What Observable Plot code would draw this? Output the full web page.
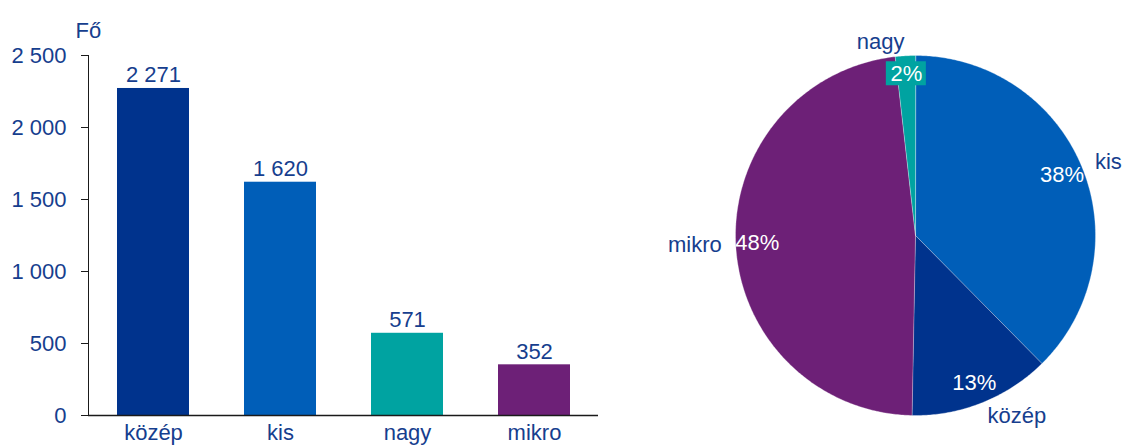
<!DOCTYPE html>
<html><head><meta charset="utf-8">
<script src="https://cdn.jsdelivr.net/npm/d3@7"></script>
<script src="https://cdn.jsdelivr.net/npm/@observablehq/plot@0.6"></script>
<style>
body{margin:0;background:#fff;}
#wrap{display:flex;width:1126px;height:445px;overflow:hidden;}
#wrap svg{display:block;overflow:visible;}
</style></head><body>
<div id="wrap"><div id="bar"></div><div id="pie"></div></div>
<script>
// ---- data ----
const categories = ["közép", "kis", "nagy", "mikro"];
const employees = [2271, 1620, 571, 352];
const yTicks = [0, 500, 1000, 1500, 2000, 2500];
const unitLabel = "Fő";
const pieCategories = ["kis", "közép", "mikro", "nagy"];
const pieShares = [37.6, 12.7, 47.9, 1.8];
const pieLabels = ["38%", "13%", "48%", "2%"];
const palette = ["#00338d", "#005eb8", "#00a3a1", "#6d2077"]; // közép, kis, nagy, mikro

// ---- styles ----
const TEXT = "#163e8e";
const AXIS = "#1a1a1a";
const FONT = "'Liberation Sans', Arial, sans-serif";
const fmt = v => d3.format(",")(v).replace(/,/g, "\u00a0");
const colorScale = {domain: categories, range: palette};

// ---- bar chart ----
const barData = categories.map((c, i) => ({c, v: employees[i]}));
const bar = Plot.plot({
  width: 620, height: 445,
  marginLeft: 88, marginRight: 22, marginTop: 55, marginBottom: 30,
  style: {fontFamily: FONT, fontSize: "22px", background: "transparent"},
  x: {domain: categories, paddingInner: 0.437, paddingOuter: 0.226, axis: null},
  y: {domain: [0, 2500], axis: null},
  color: colorScale,
  marks: [
    Plot.barY(barData, {x: "c", y: "v", fill: "c"}),
    Plot.axisY(yTicks, {tickSize: 7, tickPadding: 15, tickFormat: fmt, stroke: AXIS, fill: TEXT, label: null}),
    Plot.axisX({tickSize: 0, tickPadding: 9, fill: TEXT, label: null}),
    Plot.frame({anchor: "left", stroke: AXIS}),
    Plot.ruleY([0], {stroke: AXIS, strokeWidth: 1.3}),
    Plot.text(barData, {x: "c", y: "v", text: d => fmt(d.v), dy: -6, lineAnchor: "bottom", fill: TEXT}),
    Plot.text([unitLabel], {frameAnchor: "top-left", text: d => d, textAnchor: "start", dx: -13, dy: -33, fill: TEXT})
  ]
});
document.getElementById("bar").appendChild(bar);

// ---- pie chart ----
const total = d3.sum(pieShares);
let acc = 0;
const slices = pieCategories.map((c, i) => {
  const a0 = acc / total * 2 * Math.PI;
  acc += pieShares[i];
  const a1 = acc / total * 2 * Math.PI;
  const m = (a0 + a1) / 2;
  return {c, a0, a1, share: pieShares[i], label: pieLabels[i], sx: Math.sin(m), cy: Math.cos(m)};
});
const polyPts = slices.flatMap(s => {
  const n = Math.max(2, Math.ceil((s.a1 - s.a0) / 0.01));
  const pts = [{c: s.c, x: 0, y: 0}];
  for (let k = 0; k <= n; k++) {
    const a = s.a0 + (s.a1 - s.a0) * k / n;
    pts.push({c: s.c, x: Math.sin(a), y: Math.cos(a)});
  }
  return pts;
});
const R = 180;
const inR = 0.88, outR = (R + 14) / R;
const boxW = 20 / R, boxH = 12 / R;
const small = slices.filter(s => s.share < 5);
const outer = side => slices.filter(side);
const pie = Plot.plot({
  width: 506, height: 445,
  style: {fontFamily: FONT, fontSize: "22px", background: "transparent"},
  x: {domain: [-1, 1], range: [295 - R, 295 + R], axis: null},
  y: {domain: [-1, 1], range: [235 + R, 235 - R], axis: null},
  color: colorScale,
  marks: [
    Plot.line(polyPts, {x: "x", y: "y", z: "c", fill: "c", stroke: "white", strokeWidth: 0.6, strokeOpacity: 0.5, curve: "linear-closed"}),
    Plot.rect(small, {x1: d => d.sx * 0.9 - boxW, x2: d => d.sx * 0.9 + boxW, y1: d => d.cy * 0.9 - boxH, y2: d => d.cy * 0.9 + boxH, fill: "c"}),
    Plot.text(slices, {x: d => d.sx * (d.share < 5 ? 0.9 : inR), y: d => d.cy * (d.share < 5 ? 0.9 : inR), text: "label", fill: "white"}),
    Plot.text(outer(d => d.sx > 0.05), {x: d => d.sx * outR, y: d => d.cy * outR, text: "c", textAnchor: "start", fill: TEXT}),
    Plot.text(outer(d => d.sx < -0.05), {x: d => d.sx * outR, y: d => d.cy * outR, text: "c", textAnchor: "end", fill: TEXT}),
    Plot.text(outer(d => Math.abs(d.sx) <= 0.05), {x: d => d.sx * outR, y: d => d.cy * outR, text: "c", fill: TEXT})
  ]
});
document.getElementById("pie").appendChild(pie);
</script>
</body></html>
